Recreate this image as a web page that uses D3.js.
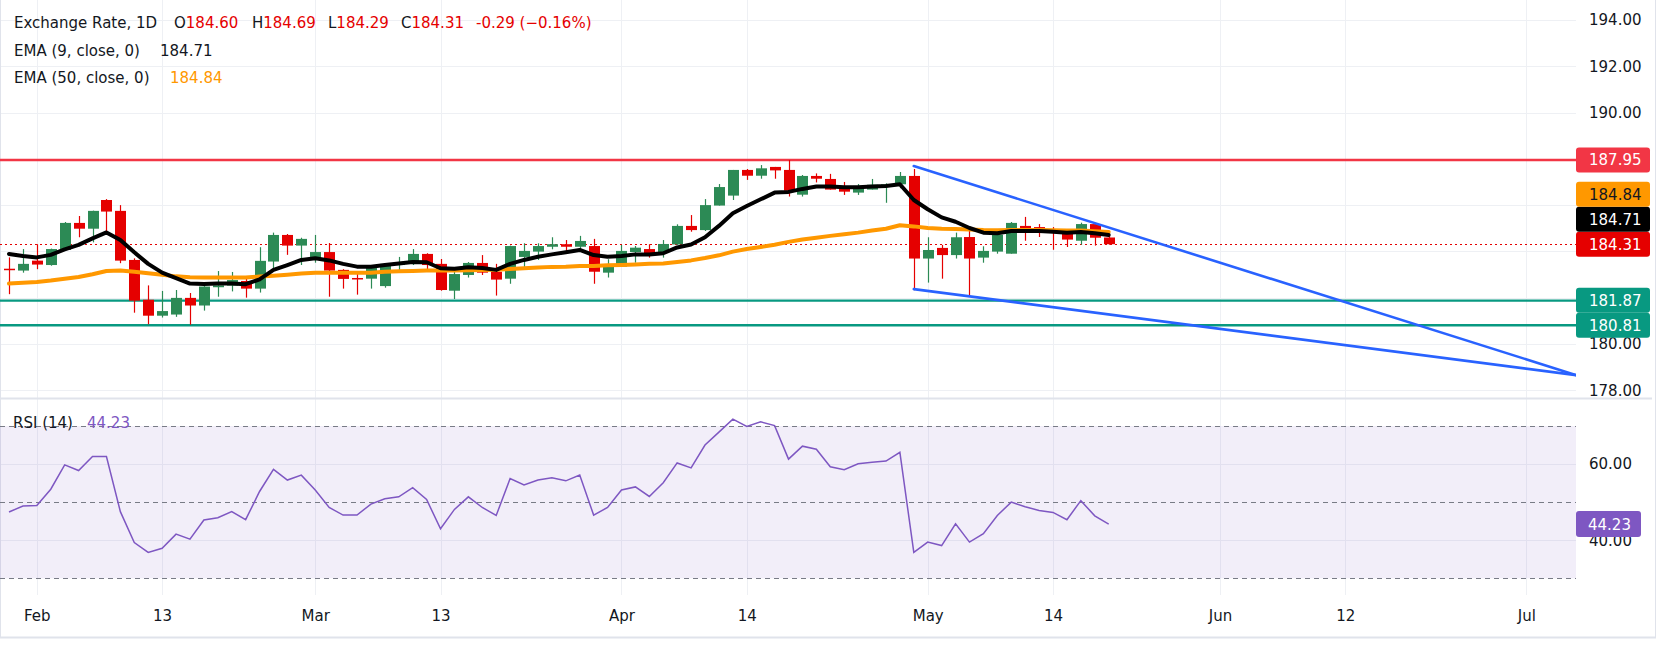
<!DOCTYPE html>
<html>
<head>
<meta charset="utf-8">
<script src="https://cdn.jsdelivr.net/npm/d3@7"></script>
<style>
  body { margin: 0; background: #fff; }
  svg { display: block; font-family: "DejaVu Sans", sans-serif; }
</style>
</head>
<body>
<svg id="chart"></svg>
<script>
const width = 1658;
const height = 647;

// Daily bars, index 0 = first bar on screen
const opens = [
  183.25, 183.17, 183.60, 183.41, 184.06, 185.23, 184.98, 186.22, 185.75, 183.63,
  181.91, 181.22, 181.27, 181.99, 181.66, 182.45, 182.52, 182.72, 182.39, 183.56,
  184.71, 184.25, 183.64, 183.97, 183.20, 182.85, 182.82, 182.50, 183.41, 183.48,
  183.89, 183.46, 182.30, 182.98, 183.50, 183.12, 182.82, 183.76, 183.99, 184.20,
  184.31, 184.20, 184.23, 183.08, 183.34, 183.97, 184.10, 183.93, 184.30, 185.10,
  184.92, 185.98, 186.41, 187.52, 187.27, 187.65, 187.52, 186.45, 187.26, 187.13,
  186.70, 186.54, 186.67, 186.87, 186.90, 187.26, 183.69, 184.15, 183.84, 184.62,
  183.73, 183.99, 183.90, 185.10, 185.05, 184.87, 184.78, 184.46, 185.18, 184.60
];
const highs = [
  183.74, 184.10, 184.31, 184.12, 185.27, 185.53, 185.76, 186.26, 186.00, 183.70,
  182.53, 182.29, 182.33, 182.20, 182.53, 183.15, 183.11, 182.82, 184.18, 184.81,
  184.75, 184.59, 184.71, 184.36, 183.23, 183.11, 183.31, 183.47, 183.76, 184.10,
  183.92, 183.67, 183.17, 183.54, 183.84, 183.46, 184.25, 184.35, 184.35, 184.61,
  184.49, 184.67, 184.54, 183.66, 184.28, 184.23, 184.31, 184.49, 185.17, 185.57,
  186.26, 186.91, 187.52, 187.56, 187.73, 187.65, 187.95, 187.30, 187.37, 187.35,
  187.00, 186.91, 187.13, 186.94, 187.43, 187.56, 184.61, 184.28, 184.81, 185.05,
  184.22, 184.77, 185.27, 185.49, 185.18, 185.05, 184.84, 185.24, 185.18, 184.69
];
const lows = [
  182.15, 183.08, 183.23, 183.38, 184.03, 184.61, 184.39, 184.85, 183.49, 181.35,
  180.85, 181.14, 181.17, 180.83, 181.44, 182.04, 182.27, 182.00, 182.22, 183.27,
  183.85, 183.41, 183.51, 182.04, 182.39, 182.13, 182.39, 182.43, 183.08, 183.41,
  183.24, 182.30, 181.94, 182.87, 182.98, 182.09, 182.60, 183.23, 183.63, 184.09,
  183.99, 183.99, 182.60, 182.87, 183.34, 183.51, 183.73, 183.73, 184.28, 184.85,
  184.88, 185.98, 186.22, 187.09, 187.14, 187.14, 186.37, 186.37, 186.98, 186.67,
  186.44, 186.44, 186.67, 186.10, 186.73, 182.32, 182.65, 182.82, 183.69, 182.09,
  183.51, 183.90, 183.90, 184.46, 184.62, 184.07, 184.19, 184.29, 184.25, 184.29
];
const closes = [
  183.20, 183.46, 183.43, 184.10, 185.23, 184.98, 185.75, 185.72, 183.60, 181.87,
  181.22, 181.42, 181.99, 181.66, 182.48, 182.53, 182.76, 182.39, 183.59, 184.71,
  184.25, 184.54, 183.97, 183.17, 182.81, 182.82, 183.28, 183.46, 183.53, 183.89,
  183.41, 182.33, 183.02, 183.50, 183.08, 182.78, 184.23, 184.02, 184.23, 184.31,
  184.20, 184.45, 183.12, 183.37, 184.02, 184.16, 183.82, 184.32, 185.10, 184.92,
  186.00, 186.78, 187.52, 187.27, 187.59, 187.50, 186.62, 187.26, 187.14, 186.67,
  186.58, 186.83, 186.88, 186.90, 187.26, 183.69, 184.06, 183.84, 184.61, 183.69,
  184.02, 184.72, 185.23, 184.99, 184.85, 184.84, 184.51, 185.18, 184.59, 184.31
];

const ema9 = [
  183.89, 183.80, 183.74, 183.85, 184.09, 184.28, 184.56, 184.82, 184.49, 183.96,
  183.46, 183.08, 182.84, 182.61, 182.59, 182.61, 182.61, 182.58, 182.79, 183.20,
  183.41, 183.63, 183.70, 183.61, 183.46, 183.34, 183.34, 183.41, 183.48, 183.54,
  183.53, 183.27, 183.25, 183.31, 183.28, 183.20, 183.46, 183.63, 183.77, 183.87,
  183.96, 184.06, 183.84, 183.77, 183.80, 183.87, 183.87, 183.92, 184.17, 184.30,
  184.61, 185.10, 185.65, 185.96, 186.25, 186.54, 186.57, 186.70, 186.80, 186.80,
  186.77, 186.77, 186.80, 186.83, 186.90, 186.22, 185.82, 185.47, 185.28, 185.01,
  184.81, 184.78, 184.88, 184.88, 184.88, 184.85, 184.81, 184.84, 184.78, 184.71
];
const ema50 = [
  182.61, 182.64, 182.68, 182.74, 182.82, 182.89, 183.01, 183.15, 183.17, 183.12,
  183.05, 182.99, 182.92, 182.88, 182.87, 182.87, 182.87, 182.87, 182.91, 182.95,
  182.99, 183.04, 183.08, 183.08, 183.08, 183.08, 183.08, 183.12, 183.14, 183.15,
  183.17, 183.17, 183.17, 183.18, 183.20, 183.21, 183.24, 183.27, 183.30, 183.33,
  183.34, 183.37, 183.37, 183.40, 183.41, 183.43, 183.46, 183.48, 183.54, 183.61,
  183.71, 183.83, 183.99, 184.10, 184.19, 184.29, 184.41, 184.51, 184.59, 184.67,
  184.74, 184.81, 184.90, 184.98, 185.13, 185.08, 185.01, 184.98, 184.97, 184.95,
  184.92, 184.91, 184.92, 184.92, 184.92, 184.91, 184.90, 184.90, 184.87, 184.84
];
const rsi14 = [
  47.4, 49.0, 49.1, 53.4, 59.8, 58.3, 62.0, 62.0, 47.5, 39.4,
  36.8, 37.9, 41.6, 40.3, 45.3, 45.9, 47.5, 45.4, 52.8, 58.6,
  55.8, 57.1, 53.2, 48.6, 46.6, 46.6, 49.5, 50.9, 51.4, 53.8,
  50.7, 43.0, 48.1, 51.4, 48.6, 46.5, 56.2, 54.5, 55.8, 56.4,
  55.6, 57.1, 46.6, 48.6, 53.2, 54.0, 51.5, 55.1, 60.3, 59.0,
  65.0, 68.4, 71.8, 69.9, 71.1, 70.1, 61.3, 64.7, 63.9, 59.3,
  58.5, 60.1, 60.5, 60.8, 63.1, 36.8, 39.5, 38.6, 44.3, 39.5,
  41.7, 46.5, 50.0, 48.8, 47.8, 47.3, 45.4, 50.4, 46.4, 44.23
];

// time axis: labels and the bar index where each one sits (future bars included)
const tickLabels = ["Feb", "13", "Mar", "13", "Apr", "14", "May", "14", "Jun", "12", "Jul"];
const tickBars = [2, 11, 22, 31, 44, 53, 66, 75, 87, 96, 109];

const priceTicks = [178, 180, 182, 184, 186, 188, 190, 192, 194];
const rsiTicks = [40, 60];
const rsiBands = [70, 50, 30];

const resistance = 187.95;
const supports = [181.87, 180.81];

// drawn trend lines as [bar index, price]
const upperTrend = [[65, 187.69], [112.6, 178.65]];
const lowerTrend = [[65, 182.37], [112.6, 178.65]];

const header = { open: 184.60, high: 184.69, low: 184.29, close: 184.31, change: "-0.29", pct: "(\u22120.16%)" };

// ---- layout
const plotRight = 1576;
const mainBottom = 398;
const rsiBottom = 595;
const green = "#2c8a55";
const red = "#e50000";
const fmt = d3.format(".2f");
const last = closes.length - 1;

const svg = d3.select("#chart")
  .attr("width", width)
  .attr("height", height);

const x = d3.scaleLinear()
  .domain([0, last])
  .range([9, 9 + 13.92 * last]);
const y = d3.scaleLinear()
  .domain([178, 194])
  .range([390.2, 20]);
const yRsi = d3.scaleLinear()
  .domain([30, 70])
  .range([578.3, 426]);

svg.append("defs").append("clipPath").attr("id", "clip-main")
  .append("rect").attr("x", 0).attr("y", 0).attr("width", plotRight).attr("height", mainBottom);

// Grid
const grid = svg.append("g").attr("stroke", "#eef0f4").attr("stroke-width", 1);
grid.selectAll(".vg").data(tickBars).enter().append("line")
  .attr("x1", d => Math.round(x(d)) + 0.5).attr("x2", d => Math.round(x(d)) + 0.5)
  .attr("y1", 0).attr("y2", rsiBottom);
grid.selectAll(".hg").data(priceTicks).enter().append("line")
  .attr("x1", 0).attr("x2", plotRight)
  .attr("y1", d => Math.round(y(d)) + 0.5).attr("y2", d => Math.round(y(d)) + 0.5);
grid.selectAll(".rg").data(rsiTicks).enter().append("line")
  .attr("x1", 0).attr("x2", plotRight)
  .attr("y1", d => Math.round(yRsi(d)) + 0.5).attr("y2", d => Math.round(yRsi(d)) + 0.5);

// Borders
svg.append("line").attr("x1", 0).attr("x2", 1652).attr("y1", mainBottom + 0.5).attr("y2", mainBottom + 0.5)
  .attr("stroke", "#e0e3eb").attr("stroke-width", 2);
svg.append("line").attr("x1", 0).attr("x2", 1656).attr("y1", 637.5).attr("y2", 637.5)
  .attr("stroke", "#e0e3eb").attr("stroke-width", 2);
svg.append("line").attr("x1", 0.5).attr("x2", 0.5).attr("y1", 0).attr("y2", 637)
  .attr("stroke", "#e0e3eb");
svg.append("line").attr("x1", 1655.5).attr("x2", 1655.5).attr("y1", 0).attr("y2", 637)
  .attr("stroke", "#e0e3eb");

// RSI band
svg.append("rect")
  .attr("x", 0).attr("width", plotRight)
  .attr("y", yRsi(70)).attr("height", yRsi(30) - yRsi(70))
  .attr("fill", "#7e57c2").attr("fill-opacity", 0.1);
svg.selectAll(".band").data(rsiBands).enter().append("line")
  .attr("x1", 0).attr("x2", plotRight)
  .attr("y1", d => Math.round(yRsi(d)) + 0.5).attr("y2", d => Math.round(yRsi(d)) + 0.5)
  .attr("stroke", "#787b86").attr("stroke-dasharray", "5,4");

// Horizontal levels
const main = svg.append("g").attr("clip-path", "url(#clip-main)");
main.append("line")
  .attr("x1", 0).attr("x2", plotRight)
  .attr("y1", y(resistance)).attr("y2", y(resistance))
  .attr("stroke", "#f23645").attr("stroke-width", 2.4);
main.selectAll(".sup").data(supports).enter().append("line")
  .attr("x1", 0).attr("x2", plotRight)
  .attr("y1", d => y(d)).attr("y2", d => y(d))
  .attr("stroke", "#089981").attr("stroke-width", 2.4);
main.append("line")
  .attr("x1", 0).attr("x2", plotRight)
  .attr("y1", Math.round(y(closes[last])) + 0.5).attr("y2", Math.round(y(closes[last])) + 0.5)
  .attr("stroke", red).attr("stroke-dasharray", "2,3");

// Candles
const bars = d3.range(closes.length);
const candle = main.append("g").selectAll("g").data(bars).enter().append("g")
  .attr("fill", i => closes[i] >= opens[i] ? green : red)
  .attr("stroke", i => closes[i] >= opens[i] ? green : red);
candle.append("line")
  .attr("x1", i => Math.round(x(i)) + 0.5).attr("x2", i => Math.round(x(i)) + 0.5)
  .attr("y1", i => y(highs[i])).attr("y2", i => y(lows[i]))
  .attr("stroke-width", 1.2);
candle.append("rect")
  .attr("x", i => Math.round(x(i)) - 5)
  .attr("width", 11)
  .attr("y", i => y(Math.max(opens[i], closes[i])))
  .attr("height", i => Math.max(1.5, Math.abs(y(opens[i]) - y(closes[i]))))
  .attr("stroke", "none");

// EMAs
const emaLine = arr => d3.line().x((d, i) => x(i)).y(d => y(d)).curve(d3.curveLinear)(arr);
main.append("path").attr("d", emaLine(ema50))
  .attr("fill", "none").attr("stroke", "#ff9800").attr("stroke-width", 4)
  .attr("stroke-linejoin", "round").attr("stroke-linecap", "round");
main.append("path").attr("d", emaLine(ema9))
  .attr("fill", "none").attr("stroke", "#000").attr("stroke-width", 4)
  .attr("stroke-linejoin", "round").attr("stroke-linecap", "round");

// Trend lines
[upperTrend, lowerTrend].forEach(t => {
  main.append("line")
    .attr("x1", x(t[0][0])).attr("y1", y(t[0][1]))
    .attr("x2", x(t[1][0])).attr("y2", y(t[1][1]))
    .attr("stroke", "#2962ff").attr("stroke-width", 2.6).attr("stroke-linecap", "round");
});

// RSI line
svg.append("path")
  .attr("d", d3.line().x((d, i) => x(i)).y(d => yRsi(d))(rsi14))
  .attr("fill", "none").attr("stroke", "#7e57c2").attr("stroke-width", 1.5);

// Price labels on the axis, stacked where they collide
const tags = [
  { v: resistance, bg: "#f23645", fg: "#fff" },
  { v: ema50[last], bg: "#ff9800", fg: "#131722" },
  { v: ema9[last], bg: "#000", fg: "#fff" },
  { v: closes[last], bg: red, fg: "#fff" },
  { v: supports[0], bg: "#089981", fg: "#fff" },
  { v: supports[1], bg: "#089981", fg: "#fff" }
];
const tagH = 25;
tags.forEach(t => t.cy = y(t.v));
tags.sort((a, b) => b.cy - a.cy);
tags.forEach((t, i) => {
  if (i > 0) t.cy = Math.min(t.cy, tags[i - 1].cy - tagH);
});

// Axes (tick labels hidden under a tag are dropped, as on the chart)
const hidden = v => tags.some(t => Math.abs(y(v) - t.cy) < tagH / 2 + 3);
const priceAxis = svg.append("g")
  .attr("transform", `translate(${plotRight},0)`)
  .call(d3.axisRight(y).tickValues(priceTicks.filter(v => !hidden(v))).tickFormat(fmt).tickSize(0).tickPadding(13));
const rsiAxis = svg.append("g")
  .attr("transform", `translate(${plotRight},0)`)
  .call(d3.axisRight(yRsi).tickValues(rsiTicks).tickFormat(fmt).tickSize(0).tickPadding(13));
const timeAxis = svg.append("g")
  .attr("transform", `translate(0,${rsiBottom})`)
  .call(d3.axisBottom(x).tickValues(tickBars).tickFormat((d, i) => tickLabels[i]).tickSize(0).tickPadding(15));
[priceAxis, rsiAxis, timeAxis].forEach(a => {
  a.select(".domain").remove();
  a.attr("font-family", null).attr("font-size", null);
  a.selectAll("text").attr("font-family", "DejaVu Sans, sans-serif").attr("font-size", 15).attr("fill", "#131722");
});

const tag = svg.append("g").selectAll("g").data(tags).enter().append("g");
tag.append("rect")
  .attr("x", plotRight).attr("width", 74)
  .attr("y", d => d.cy - tagH / 2).attr("height", tagH)
  .attr("rx", 3).attr("fill", d => d.bg);
tag.append("text")
  .attr("x", plotRight + 13).attr("y", d => d.cy).attr("dy", "0.36em")
  .attr("font-size", 15).attr("fill", d => d.fg)
  .text(d => fmt(d.v));

// RSI value tag
const rsiTag = svg.append("g");
rsiTag.append("rect")
  .attr("x", plotRight).attr("width", 65)
  .attr("y", yRsi(rsi14[last]) - 13).attr("height", 26)
  .attr("rx", 3).attr("fill", "#7e57c2");
rsiTag.append("text")
  .attr("x", plotRight + 12).attr("y", yRsi(rsi14[last])).attr("dy", "0.36em")
  .attr("font-size", 15).attr("fill", "#fff")
  .text(fmt(rsi14[last]));

// Legends
const legend = svg.append("g").attr("font-size", 15).attr("fill", "#131722");
const l1 = legend.append("text").attr("y", 22.7).attr("dy", "0.36em");
l1.append("tspan").attr("x", 14).text("Exchange Rate, 1D");
[["O", header.open, 174], ["H", header.high, 252], ["L", header.low, 328], ["C", header.close, 401]].forEach(p => {
  l1.append("tspan").attr("x", p[2]).text(p[0]);
  l1.append("tspan").attr("fill", red).text(fmt(p[1]));
});
l1.append("tspan").attr("x", 476).attr("fill", red).text(`${header.change} ${header.pct}`);

const l2 = legend.append("text").attr("y", 50.7).attr("dy", "0.36em");
l2.append("tspan").attr("x", 14).text("EMA (9, close, 0)");
l2.append("tspan").attr("x", 160).text(fmt(ema9[last]));

const l3 = legend.append("text").attr("y", 77.3).attr("dy", "0.36em");
l3.append("tspan").attr("x", 14).text("EMA (50, close, 0)");
l3.append("tspan").attr("x", 170).attr("fill", "#ff9800").text(fmt(ema50[last]));

const l4 = legend.append("text").attr("y", 423).attr("dy", "0.36em");
l4.append("tspan").attr("x", 13).text("RSI (14)");
l4.append("tspan").attr("x", 87).attr("fill", "#7e57c2").text(fmt(rsi14[last]));
</script>
</body>
</html>
